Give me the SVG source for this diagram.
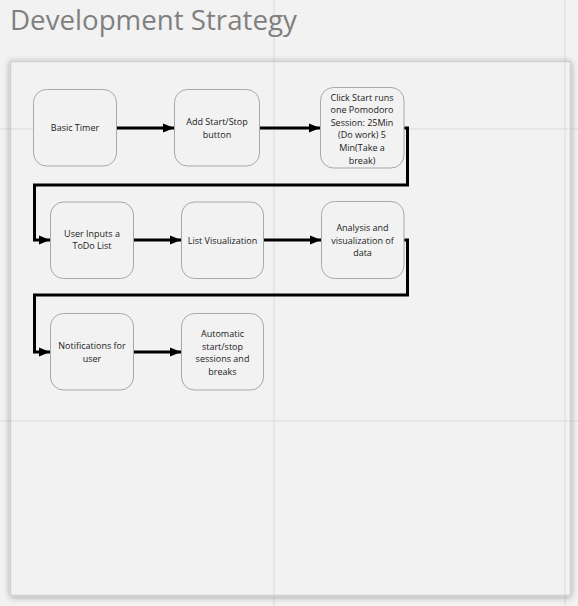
<svg xmlns="http://www.w3.org/2000/svg" width="578" height="606" viewBox="0 0 578 606">
<defs>
<style>
.grid{stroke:#e2e2e2;stroke-width:1.5;fill:none}
.node{fill:#f2f2f2;stroke:#a8a8a8;stroke-width:1}
.lbl{font-family:"Open Sans","Noto Sans",sans-serif;font-size:9px;fill:#1a1a1a;text-anchor:middle}
.con{fill:none;stroke:#000;stroke-width:3;stroke-linejoin:miter}
.title{font-family:"Open Sans","Noto Sans",sans-serif;font-size:27.7px;fill:#808080}
</style>
<marker id="ah" markerUnits="userSpaceOnUse" markerWidth="12" markerHeight="12" viewBox="0 0 12 12" refX="11" refY="6" orient="auto">
<path d="M0,1.5 L11,6 L0,10.5 Z" fill="#000"/>
</marker>
<filter id="sh" x="-10%" y="-10%" width="120%" height="120%">
<feGaussianBlur in="SourceAlpha" stdDeviation="3"/>
<feOffset dx="0" dy="1"/>
<feComponentTransfer><feFuncA type="linear" slope="0.35"/></feComponentTransfer>
<feMerge><feMergeNode/><feMergeNode in="SourceGraphic"/></feMerge>
</filter>
</defs>
<rect x="0" y="0" width="578" height="606" fill="#f2f2f2"/>
<g id="grid-back">
<line class="grid" x1="274" y1="0" x2="274" y2="606"/>
<line class="grid" x1="565" y1="0" x2="565" y2="606"/>
<line class="grid" x1="0" y1="129" x2="578" y2="129"/>
<line class="grid" x1="0" y1="421" x2="578" y2="421"/>
</g>
<text class="title" x="10" y="30">Development Strategy</text>
<g id="frame">
<rect x="10.5" y="61.5" width="560" height="534" fill="#f2f2f2" stroke="#cfcfcf" stroke-width="1.5" filter="url(#sh)"/>
<line class="grid" x1="274" y1="62" x2="274" y2="595"/>
<line class="grid" x1="565" y1="62" x2="565" y2="595"/>
<line class="grid" x1="11" y1="129" x2="570" y2="129"/>
<line class="grid" x1="11" y1="421" x2="570" y2="421"/>
</g>
<g id="connectors">
<path class="con" d="M116.5,128 L174,128" marker-end="url(#ah)"/>
<path class="con" d="M259.5,128 L320,128" marker-end="url(#ah)"/>
<path class="con" d="M404,128 L407.5,128 L407.5,185 L34.5,185 L34.5,240 L50,240" marker-end="url(#ah)"/>
<path class="con" d="M133,240 L181,240" marker-end="url(#ah)"/>
<path class="con" d="M263,240 L321,240" marker-end="url(#ah)"/>
<path class="con" d="M404,240 L407.5,240 L407.5,295 L34.5,295 L34.5,352 L50,352" marker-end="url(#ah)"/>
<path class="con" d="M133,352 L181,352" marker-end="url(#ah)"/>
</g>
<g id="n1"><rect class="node" x="33.5" y="89.5" width="83" height="76.5" rx="13"/>
<text class="lbl" x="75" y="131.3">Basic Timer</text></g>
<g id="n2"><rect class="node" x="174.5" y="89.5" width="85" height="76.5" rx="13"/>
<text class="lbl" x="217" y="125.3">Add Start/Stop</text><text class="lbl" x="217" y="137.6">button</text></g>
<g id="n3"><rect class="node" x="320.5" y="87.5" width="83.5" height="80.5" rx="13"/>
<text class="lbl" x="362" y="100.6">Click Start runs</text>
<text class="lbl" x="362" y="113.2">one Pomodoro</text>
<text class="lbl" x="362" y="125.8">Session: 25Min</text>
<text class="lbl" x="362" y="138.4">(Do work) 5</text>
<text class="lbl" x="362" y="151">Min(Take a</text>
<text class="lbl" x="362" y="163.6">break)</text></g>
<g id="n4"><rect class="node" x="50.5" y="202" width="83" height="76.5" rx="13"/>
<text class="lbl" x="92" y="236.6">User Inputs a</text><text class="lbl" x="92" y="249.3">ToDo List</text></g>
<g id="n5"><rect class="node" x="181.5" y="202" width="82" height="76.5" rx="13"/>
<text class="lbl" x="222.5" y="243.6">List Visualization</text></g>
<g id="n6"><rect class="node" x="321.5" y="201.5" width="82.5" height="77" rx="13"/>
<text class="lbl" x="362.5" y="230.8">Analysis and</text><text class="lbl" x="362.5" y="243.6">visualization of</text><text class="lbl" x="362.5" y="256.2">data</text></g>
<g id="n7"><rect class="node" x="50.5" y="313.5" width="83" height="76.5" rx="13"/>
<text class="lbl" x="92" y="349">Notifications for</text><text class="lbl" x="92" y="362">user</text></g>
<g id="n8"><rect class="node" x="181.5" y="313.5" width="82" height="76.5" rx="13"/>
<text class="lbl" x="222.5" y="336.5">Automatic</text><text class="lbl" x="222.5" y="349.5">start/stop</text><text class="lbl" x="222.5" y="362.3">sessions and</text><text class="lbl" x="222.5" y="375">breaks</text></g>
</svg>
